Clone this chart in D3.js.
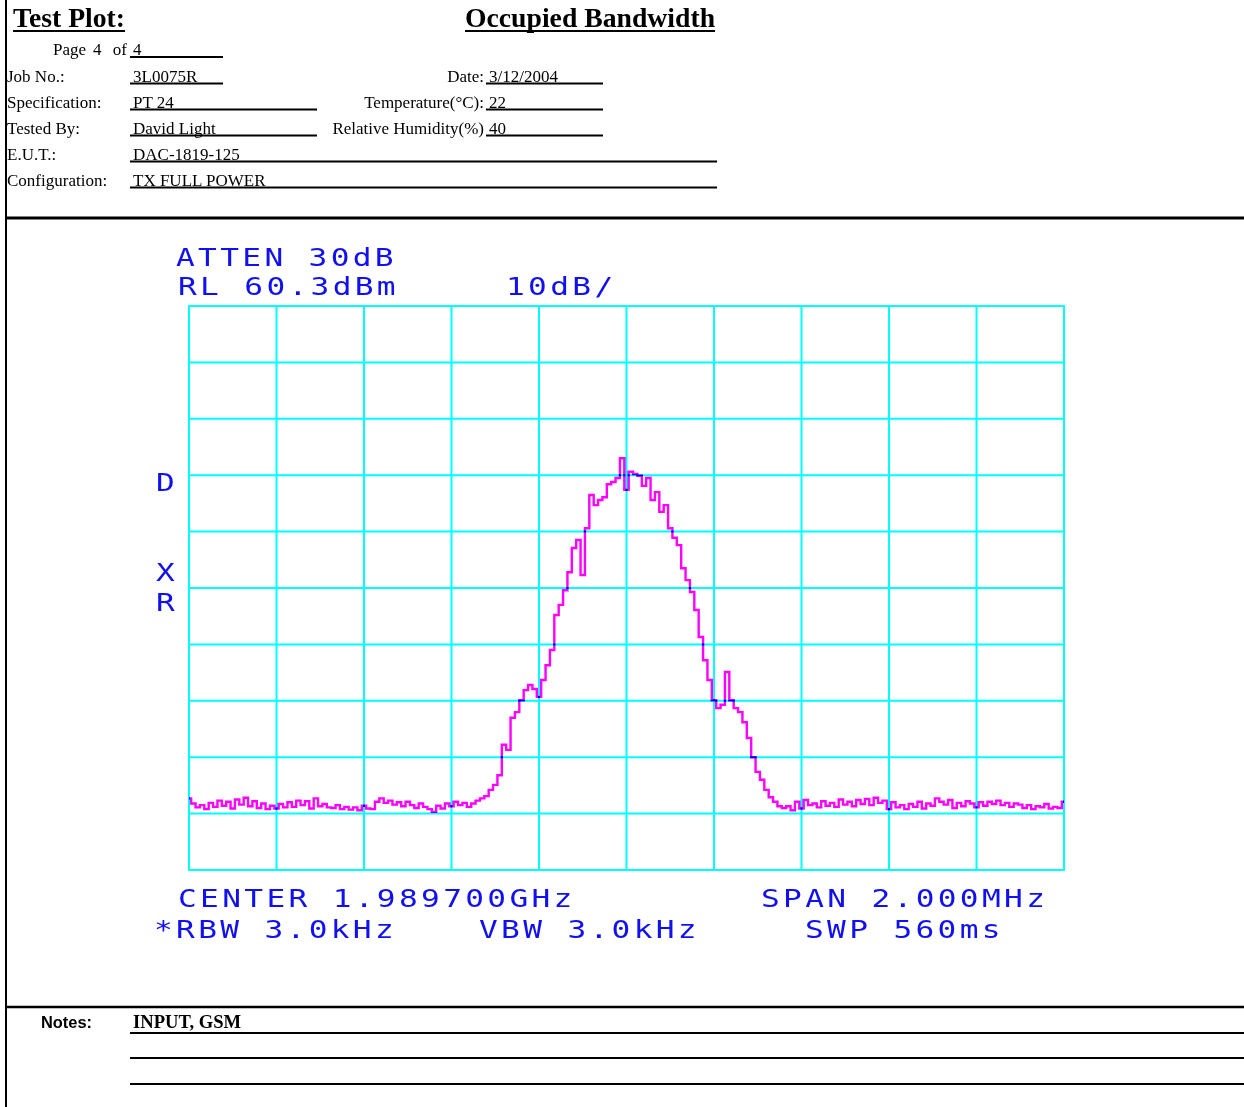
<!DOCTYPE html>
<html><head><meta charset="utf-8">
<script src="https://cdn.jsdelivr.net/npm/d3@7"></script>
<style>html,body{margin:0;padding:0;background:#fff;overflow:hidden}svg{display:block}</style>
</head><body><svg id="c" width="1244" height="1107"></svg>
<script>
// ---------- DATA ----------
const titleLeft = "Test Plot:";
const titleRight = "Occupied Bandwidth";
const pageNo = "4", pageTotal = "4";
const leftLabels = ["Job No.:", "Specification:", "Tested By:", "E.U.T.:", "Configuration:"];
const leftValues = ["3L0075R", "PT 24", "David Light", "DAC-1819-125", "TX FULL POWER"];
const rightLabels = ["Date:", "Temperature(°C):", "Relative Humidity(%)"];
const rightValues = ["3/12/2004", "22", "40"];
const notesLabel = "Notes:";
const notesValue = "INPUT, GSM";

const centerMHz = 1989.7;      // CENTER 1.989700GHz
const spanMHz = 2.0;           // SPAN 2.000MHz
const refLevel = 60.3;         // RL 60.3dBm
const dbPerDiv = 10;
const divisions = 10;
const stepMHz = 0.01;          // trace point spacing
const annTop = ["ATTEN 30dB", "RL 60.3dBm", "10dB/"];
const annSide = ["D", "X", "R"];
const annBottom = ["CENTER 1.989700GHz", "SPAN 2.000MHz", "*RBW 3.0kHz", "VBW 3.0kHz", "SWP 560ms"];

// trace levels in dBm, one every 10 kHz from 1988.700 to 1990.700 MHz
const traceLevels = [
 -27.0,-27.9,-28.6,-28.2,-28.9,-27.8,-28.5,-27.4,-28.3,-27.6,
 -28.8,-27.2,-28.1,-26.9,-28.4,-27.5,-28.7,-27.9,-28.9,-28.3,
 -28.8,-28.0,-28.6,-27.7,-28.5,-27.4,-28.2,-27.5,-28.8,-27.0,
 -28.4,-28.0,-28.6,-28.7,-28.2,-28.9,-28.5,-29.0,-28.6,-29.1,
 -28.3,-28.8,-28.9,-27.6,-27.0,-27.8,-27.4,-28.1,-27.7,-28.4,
 -27.6,-28.2,-28.7,-27.9,-28.5,-28.9,-29.4,-28.3,-28.8,-27.9,
 -28.4,-27.6,-28.2,-27.8,-28.5,-27.9,-27.4,-27.0,-26.6,-25.5,
 -24.6,-22.9,-17.5,-18.4,-12.7,-11.7,-9.6,-7.8,-6.9,-7.6,
 -9.0,-6.0,-3.4,-0.7,5.5,7.3,9.9,13.1,17.4,18.8,
 12.6,20.9,26.8,25.0,25.9,26.4,28.7,29.1,29.8,33.3,
 27.7,30.9,30.5,30.2,28.4,29.8,25.9,27.3,23.8,25.0,
 20.9,19.2,17.9,13.8,11.7,9.6,6.4,1.6,-2.5,-6.0,
 -9.6,-11.0,-10.4,-4.6,-9.6,-11.0,-11.7,-13.5,-16.3,-19.7,
 -22.3,-23.7,-25.5,-26.8,-27.6,-28.4,-28.7,-28.4,-29.1,-27.6,
 -28.8,-27.3,-28.2,-27.9,-28.6,-27.5,-28.3,-27.8,-28.5,-27.2,
 -28.1,-27.6,-28.4,-27.3,-28.0,-27.1,-28.2,-26.9,-27.8,-27.4,
 -28.9,-27.7,-28.6,-28.2,-28.9,-28.0,-28.5,-27.6,-28.8,-27.9,
 -28.3,-27.0,-27.6,-28.1,-27.3,-28.7,-27.8,-28.4,-27.5,-27.9,
 -28.6,-27.7,-28.3,-27.6,-28.0,-27.4,-28.2,-27.8,-28.5,-27.9,
 -28.1,-28.7,-28.2,-28.9,-28.4,-28.6,-28.0,-28.8,-28.5,-28.7,
 -27.6
];

// ---------- DRAW ----------
const svg = d3.select("#c");
svg.append("rect").attr("width",1244).attr("height",1107).attr("fill","#fff");

const serif = "'Liberation Serif','Times New Roman',serif";
const line = (x1,y1,x2,y2,w=2,c="#000") => svg.append("line")
  .attr("x1",x1).attr("y1",y1).attr("x2",x2).attr("y2",y2)
  .attr("stroke",c).attr("stroke-width",w);
const txt = (s,x,y,opt={}) => svg.append("text").attr("x",x).attr("y",y)
  .attr("font-family",opt.ff||serif).attr("font-size",opt.fs||17)
  .attr("font-weight",opt.fw||"normal").attr("fill",opt.fill||"#000")
  .attr("text-anchor",opt.anchor||"start").text(s);

// frame
line(6,0,6,1107,2);
line(6,218,1244,218,3);
line(6,1007,1244,1007,2.5);

// titles
[[titleLeft,13],[titleRight,465]].forEach(([s,x])=>{
  const t = txt(s,x,27,{fs:27.7,fw:"bold"});
  const w = t.node().getComputedTextLength();
  line(x,31,x+w,31,2);
});

// page line
txt("Page",53,55); txt(pageNo,93,55); txt("of",127,55,{anchor:"end"});
txt(pageTotal,133,55); line(130,57,223,57);

// left rows
const rowBase = [82,108,134,160,186];
const leftUnderEnd = [223,317,317,717,717];
leftLabels.forEach((l,i)=>{
  txt(l,7,rowBase[i]);
  txt(leftValues[i],133,rowBase[i]);
  line(130,rowBase[i]+1.5,leftUnderEnd[i],rowBase[i]+1.5);
});
// right rows
rightLabels.forEach((l,i)=>{
  txt(l,484,rowBase[i],{anchor:"end"});
  txt(rightValues[i],489,rowBase[i]);
  line(486,rowBase[i]+1.5,603,rowBase[i]+1.5);
});

// notes
txt(notesLabel,41,1028,{ff:"'Liberation Sans',Arial,sans-serif",fs:16.4,fw:"bold"});
txt(notesValue,133,1028,{fs:18.6,fw:"bold"});
[1033,1058,1084].forEach(y=>line(130,y,1244,y,2));

// ---------- analyzer plot ----------
const x = d3.scaleLinear().domain([centerMHz-spanMHz/2, centerMHz+spanMHz/2]).range([189,1064]);
const y = d3.scaleLinear().domain([refLevel-dbPerDiv*divisions, refLevel]).range([870,306]);
const cyan = "#00ffff";
const g = svg.append("g");
d3.range(divisions+1).forEach(k=>{
  const fx = x.domain()[0] + k*spanMHz/divisions;
  g.append("line").attr("x1",x(fx)).attr("x2",x(fx)).attr("y1",y.range()[1]-1).attr("y2",y.range()[0]+1)
   .attr("stroke",cyan).attr("stroke-width",2);
  const ly = refLevel - k*dbPerDiv;
  g.append("line").attr("y1",y(ly)).attr("y2",y(ly)).attr("x1",x.range()[0]-1).attr("x2",x.range()[1]+1)
   .attr("stroke",cyan).attr("stroke-width",2);
});

const pts = traceLevels.map((v,i)=>[x.domain()[0]+i*stepMHz, v]);
svg.append("path").datum(pts)
  .attr("d", d3.line().x(d=>x(d[0])).y(d=>y(d[1])).curve(d3.curveStep))
  .attr("fill","none").attr("stroke","#ff00ff").attr("stroke-width",2.4)
  .style("mix-blend-mode","multiply");

// annotations (analyzer screen font: wide, thin glyphs)
const mono = "'DejaVu Sans Mono',monospace";
const sx = 1.3;
const ann = (s,xx,yy)=>svg.append("text")
  .attr("transform",`translate(${xx},${yy}) scale(${sx},1)`)
  .attr("font-family",mono).attr("font-size",24).attr("letter-spacing",22.1/sx-14.45)
  .attr("fill","#1010f0").text(s);
ann(annTop[0],176,266);
ann(annTop[1],178,295);
ann(annTop[2],506,295);
ann(annSide[0],156,491);
ann(annSide[1],156,581);
ann(annSide[2],156,611);
ann(annBottom[0],178,907);
ann(annBottom[1],761,907);
ann(annBottom[2],154,938);
ann(annBottom[3],479,938);
ann(annBottom[4],805,938);
</script></body></html>
